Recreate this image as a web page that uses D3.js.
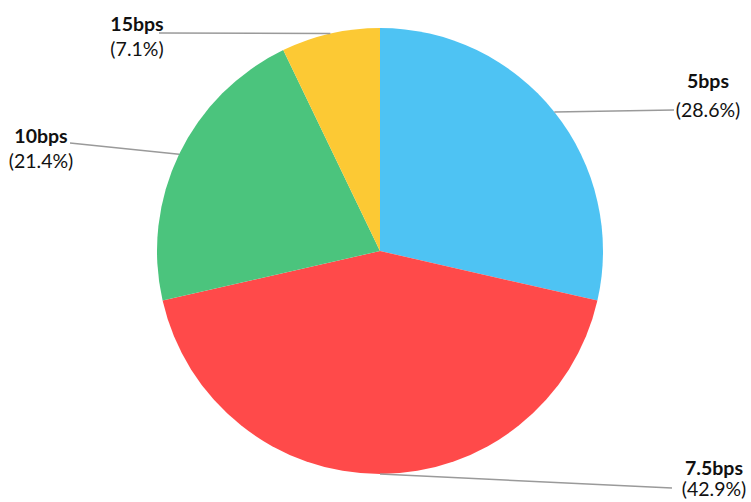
<!DOCTYPE html>
<html>
<head>
<meta charset="utf-8">
<script src="https://cdn.jsdelivr.net/npm/d3@7"></script>
<style>
  html, body { margin: 0; padding: 0; background: #fff; }
  svg { display: block; }
  text { font-family: Lato, "Open Sans", sans-serif; fill: #111; }
</style>
</head>
<body>
<svg id="chart" width="751" height="502"></svg>
<script>
const categories = ["5bps", "7.5bps", "10bps", "15bps"];
const values = [4, 6, 3, 1];
const percentLabels = ["28.6%", "42.9%", "21.4%", "7.1%"];
const colors = ["#4EC3F3", "#FF4A4A", "#4BC47D", "#FCC934"];

const svg = d3.select("#chart");
const cx = 380, cy = 251, r = 223;
const g = svg.append("g").attr("transform", `translate(${cx},${cy})`);

const pie = d3.pie().sort(null).value(d => d.value);
const arcs = pie(categories.map((c, i) => ({ cat: c, value: values[i], pct: percentLabels[i], color: colors[i] })));
const arc = d3.arc().innerRadius(0).outerRadius(r);

g.selectAll("path.slice").data(arcs).enter().append("path")
  .attr("class", "slice")
  .attr("d", arc)
  .attr("fill", d => d.data.color);

const labelPos = {
  "5bps":   { x: 708, y1: 88,  y2: 117, lx: 674, ly: 110 },
  "7.5bps": { x: 714, y1: 475, y2: 496, lx: 672, ly: 488 },
  "10bps":  { x: 41,  y1: 143, y2: 168, lx: 70,  ly: 143 },
  "15bps":  { x: 137, y1: 31,  y2: 56,  lx: 159, ly: 33 }
};

const labelArc = d3.arc().innerRadius(r).outerRadius(r);

arcs.forEach(d => {
  const p = labelPos[d.data.cat];
  const [ax, ay] = labelArc.centroid(d);
  svg.append("line")
    .attr("x1", cx + ax).attr("y1", cy + ay)
    .attr("x2", p.lx).attr("y2", p.ly)
    .attr("stroke", "#9a9a9a").attr("stroke-width", 1.5);
  svg.append("text")
    .attr("x", p.x).attr("y", p.y1)
    .attr("text-anchor", "middle")
    .attr("font-size", 19.5).attr("font-weight", "bold")
    .text(d.data.cat);
  svg.append("text")
    .attr("x", p.x).attr("y", p.y2)
    .attr("text-anchor", "middle")
    .attr("font-size", 19.5)
    .text("(" + d.data.pct + ")");
});
</script>
</body>
</html>
